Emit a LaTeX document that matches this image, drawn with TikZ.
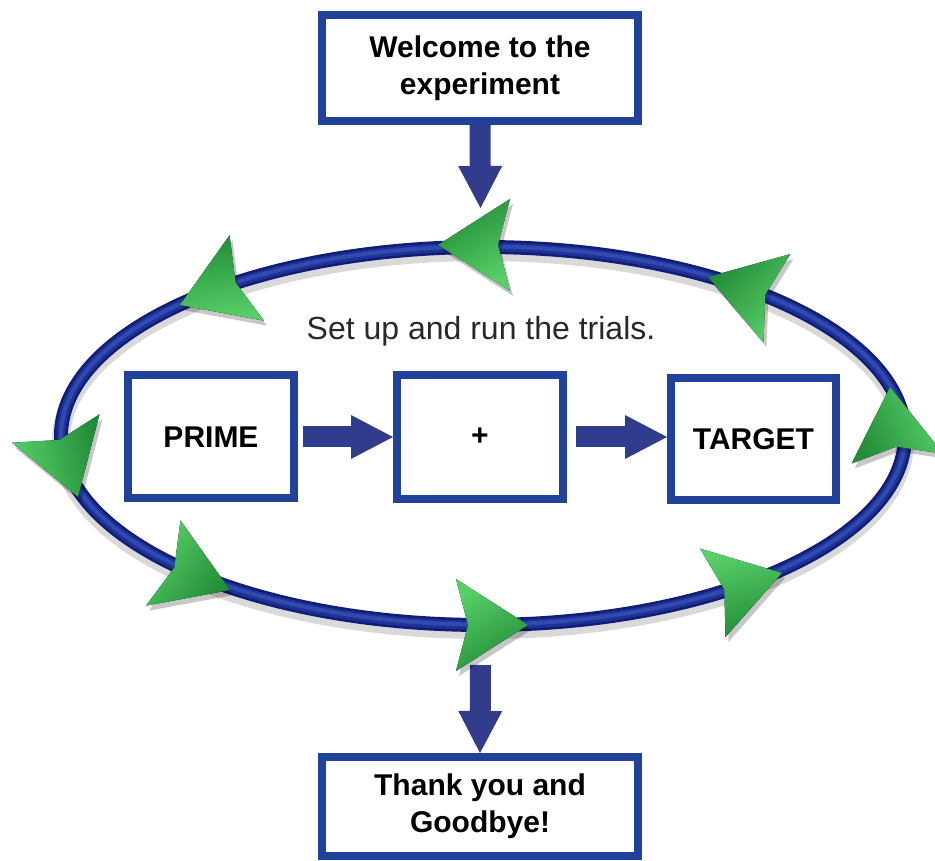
\documentclass[tikz,border=0pt]{standalone}
\usepackage{fontspec}
\setmainfont{Liberation Sans}
\usetikzlibrary{arrows.meta}

\definecolor{boxblue}{RGB}{33,66,153}
\definecolor{arrowblue}{RGB}{50,60,140}
\definecolor{ringdark}{RGB}{16,28,118}
\definecolor{ringmid}{RGB}{30,50,150}
\definecolor{ringlight}{RGB}{48,74,176}
\definecolor{headlight}{RGB}{88,208,104}
\definecolor{headdark}{RGB}{34,140,56}
\definecolor{notegray}{RGB}{40,40,40}

\tikzset{
  stepbox/.style={draw=boxblue, line width=8pt, fill=white, align=center,
    font=\fontsize{30}{37}\selectfont\bfseries},
  blockarrow/.style={arrowblue, line width=21pt,
    -{Triangle[length=42pt, width=44pt, line width=0pt]}},
  headfill/.style={top color=headlight, bottom color=headdark, shading angle=#1},
  headshadow/.style={fill=black, opacity=0.22},
}

\begin{document}
\begin{tikzpicture}[x=1pt, y=1pt]
  \fill[white] (0,0) rectangle (935,860);
  \useasboundingbox (0,0) rectangle (935,860);
  % the loop of trials
  \draw[black, opacity=0.15, line width=18pt] (483,419) ellipse [x radius=422, y radius=189];
  \draw[ringdark, line width=14pt] (483,424) ellipse [x radius=422, y radius=189];
  \draw[ringmid, line width=9pt] (483,424) ellipse [x radius=422, y radius=189];
  \draw[ringlight, line width=4pt] (483,424.5) ellipse [x radius=422, y radius=189];
  % boxes
  \node[stepbox, minimum width=316pt, minimum height=106pt] (welcome) at (480,792) {Welcome to the\\experiment};
  \node[stepbox, minimum width=166pt, minimum height=123pt] (prime) at (211,423) {PRIME};
  \node[stepbox, minimum width=166pt, minimum height=124pt] (fixation) at (480,423) {+};
  \node[stepbox, minimum width=165pt, minimum height=122pt] (target) at (753.5,421) {TARGET};
  \node[stepbox, minimum width=316pt, minimum height=99pt] (thanks) at (480,53.5) {Thank you and\\Goodbye!};
  \node[font=\fontsize{32}{38}\selectfont, text=notegray] (trials) at (481,529) {Set up and run the trials.};
  % block arrows
  \coordinate (ringtop) at (480.5,652);
  \coordinate (ringbottom) at (480.5,195);
  \draw[blockarrow] (welcome.south) -- (ringtop);
  \draw[blockarrow] ([xshift=5pt]prime.east) -- (fixation.west);
  \draw[blockarrow] ([xshift=9pt]fixation.east) -- (fixation.east -| target.west);
  \draw[blockarrow] (ringbottom) -- (thanks.north);
  % green heads on the loop
  \foreach \x/\y/\a [evaluate=\a as \sa using 30-\a] in
    {438/615/180, 180/555/202, 78/363/288, 230/270/338,
     528/235/0, 782/287/16, 890/473/96, 708/583/163}
  {
    \fill[headshadow, shift={({\x+3},{\y-5})}, rotate=\a]
      (0,0) -- (-72,46) -- (-60,0) -- (-72,-46) -- cycle;
    \fill[headfill=\sa, shift={(\x,\y)}, rotate=\a]
      (0,0) -- (-72,46) -- (-60,0) -- (-72,-46) -- cycle;
  }
\end{tikzpicture}
\end{document}
